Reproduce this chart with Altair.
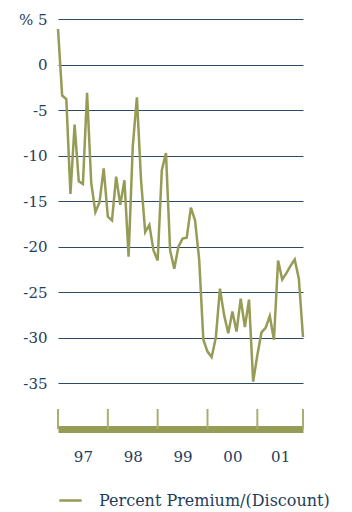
import altair as alt
import pandas as pd

# Monthly percent premium/(discount), Jan 1997 .. Dec 2001
premium = [3.9, -3.4, -3.8, -14.2, -6.6, -12.8, -13.1, -3.1, -13.0, -16.2, -15.1, -11.4,
           -16.7, -17.1, -12.3, -15.4, -12.7, -21.1, -9.0, -3.6, -12.7, -18.4, -17.6, -20.4,
           -21.5, -11.6, -9.7, -20.4, -22.4, -20.0, -19.1, -19.0, -15.7, -17.1, -21.4, -30.2,
           -31.5, -32.1, -30.0, -24.6, -27.5, -29.5, -27.1, -29.3, -25.7, -28.8, -25.8, -34.8,
           -31.9, -29.4, -28.9, -27.6, -30.2, -21.5, -23.6, -22.9, -22.1, -21.4, -23.5, -29.9]
year_labels = ["97", "98", "99", "00", "01"]
year_ticks = [0, 12, 24, 36, 48, 59]
y_ticks = [5, 0, -5, -10, -15, -20, -25, -30, -35]
series_name = "Percent Premium/(Discount)"

TEXT = "#1f3d5c"
OLIVE = "#969b55"
FONT = "DejaVu Serif"


def js_num(x):
    return str(int(x)) if float(x).is_integer() else str(x)


df = pd.DataFrame({"m": list(range(len(premium))), "v": premium, "s": series_name})
ticks_df = pd.DataFrame({"m": year_ticks, "top": -37.8, "bot": -40})
label_pos = [(year_ticks[i] + year_ticks[i + 1]) / 2 for i in range(len(year_labels))]
label_map = "{" + ",".join(f"'{js_num(p)}':'{l}'" for p, l in zip(label_pos, year_labels)) + "}"

xscale = alt.Scale(domain=[0, 59], nice=False, zero=False)
yscale = alt.Scale(domain=[-40, 5], nice=False, zero=False)

line = alt.Chart(df).mark_line(strokeWidth=2.5, strokeJoin="miter").encode(
    x=alt.X("m:Q", scale=xscale,
            axis=alt.Axis(values=label_pos, title=None, grid=False, ticks=False,
                          domainColor=OLIVE, domainWidth=7, labelPadding=20,
                          labelExpr=f"{label_map}[''+datum.value]",
                          labelFontSize=15, labelColor=TEXT, labelFont=FONT)),
    y=alt.Y("v:Q", scale=yscale,
            axis=alt.Axis(values=y_ticks, title=None, domain=False, ticks=False,
                          gridColor="#2c4a66", gridWidth=1, gridOpacity=1,
                          labelPadding=11,
                          labelExpr="datum.value == 5 ? '% 5' : '' + datum.value",
                          labelFontSize=15, labelColor=TEXT, labelFont=FONT)),
    color=alt.Color("s:N", scale=alt.Scale(range=[OLIVE]),
                    legend=alt.Legend(title=None, orient="none", legendX=0, legendY=469,
                                      symbolType="stroke", symbolStrokeWidth=2.5,
                                      symbolSize=500, labelFontSize=16, labelColor=TEXT,
                                      labelFont=FONT, labelOffset=16, labelLimit=0)),
)

ticks = alt.Chart(ticks_df).mark_rule(color="#a9ae73", strokeWidth=2).encode(
    x=alt.X("m:Q", scale=xscale), y="top:Q", y2="bot:Q")

chart = alt.layer(ticks, line).properties(
    width=245, height=410,
    padding={"left": 58, "top": 19, "right": 49, "bottom": 83},
    autosize=alt.AutoSizeParams(type="none"),
).configure_view(stroke=None)

chart.save("out.html", embed_options={"renderer": "svg", "actions": False})
